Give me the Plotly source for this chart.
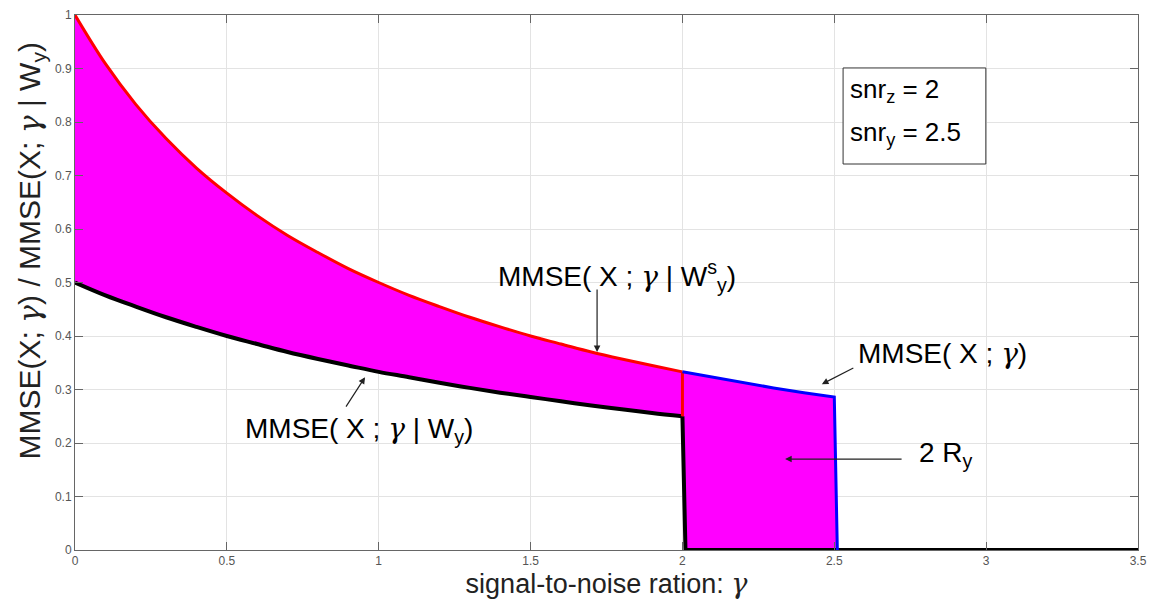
import plotly.graph_objects as go

# snr values (gamma) and curve readings
gamma_low = [0.0, 0.1, 0.2, 0.3, 0.4, 0.5, 0.6, 0.7, 0.8, 0.9, 1.0,
             1.1, 1.2, 1.3, 1.4, 1.5, 1.6, 1.7, 1.8, 1.9, 2.0]
mmse_ws = [1.0, 0.909, 0.833, 0.769, 0.714, 0.667, 0.625, 0.588, 0.556, 0.526, 0.5,
           0.476, 0.455, 0.435, 0.417, 0.4, 0.385, 0.370, 0.357, 0.345, 0.333]
mmse_w = [0.5, 0.476, 0.455, 0.435, 0.417, 0.4, 0.385, 0.370, 0.357, 0.345, 0.333,
          0.323, 0.3125, 0.303, 0.294, 0.286, 0.278, 0.270, 0.263, 0.256, 0.25]
gamma_mid = [2.0, 2.1, 2.2, 2.3, 2.4, 2.5]
mmse_x = [0.333, 0.323, 0.3125, 0.303, 0.294, 0.286]
# jump points
snr_z = 2.0
snr_y = 2.5
gamma_max = 3.5
drop_w_x = 2.01
drop_y_x = 2.51

GAMMA = '<span style="font-family:\'DejaVu Serif\'"><i>γ</i></span>'
FONT = "Arial, Liberation Sans"

fig = go.Figure()

# magenta region: between black and red curves (0..snr_z)
fig.add_trace(go.Scatter(x=gamma_low, y=mmse_w, mode="lines", line=dict(width=0, shape="spline"),
                         hoverinfo="skip", showlegend=False))
fig.add_trace(go.Scatter(x=gamma_low, y=mmse_ws, mode="lines", line=dict(width=0, shape="spline"),
                         fill="tonexty", fillcolor="#ff00ff", hoverinfo="skip", showlegend=False))
# magenta region under blue curve (snr_z..snr_y)
fig.add_trace(go.Scatter(x=gamma_mid + [drop_y_x, drop_w_x, snr_z],
                         y=mmse_x + [0, 0, mmse_w[-1]],
                         mode="lines", line=dict(width=0), fill="toself", fillcolor="#ff00ff",
                         hoverinfo="skip", showlegend=False))

# black: MMSE(X; gamma | W_y)
fig.add_trace(go.Scatter(x=gamma_low, y=mmse_w, mode="lines",
                         line=dict(color="black", width=4, shape="spline"), showlegend=False))
fig.add_trace(go.Scatter(x=[snr_z, drop_w_x, gamma_max], y=[mmse_w[-1], 0, 0], mode="lines",
                         line=dict(color="black", width=4), showlegend=False))
# red: MMSE(X; gamma | W_y^s)
fig.add_trace(go.Scatter(x=gamma_low, y=mmse_ws, mode="lines",
                         line=dict(color="#ff0000", width=3, shape="spline"), showlegend=False))
fig.add_trace(go.Scatter(x=[snr_z, snr_z], y=[mmse_ws[-1], mmse_w[-1]], mode="lines",
                         line=dict(color="#ff0000", width=3), showlegend=False))
# blue: MMSE(X; gamma)
fig.add_trace(go.Scatter(x=gamma_mid + [drop_y_x], y=mmse_x + [0], mode="lines",
                         line=dict(color="#0000ff", width=3), showlegend=False))

ann_font = dict(family=FONT, size=28, color="black")


def arrow(x, y, ax, ay):
    fig.add_annotation(x=x, y=y, ax=ax, ay=ay, xref="x", yref="y", showarrow=True,
                       text="", arrowhead=2, arrowsize=1.1, arrowwidth=1.2, arrowcolor="#222")


fig.add_annotation(x=1.785, y=0.513, xref="x", yref="y", showarrow=False,
                   text="MMSE( X ; " + GAMMA + " | W<sup>s</sup><sub>y</sub>)", font=ann_font)
arrow(1.719, 0.370, 0, -64)

fig.add_annotation(x=0.935, y=0.225, xref="x", yref="y", showarrow=False,
                   text="MMSE( X ; " + GAMMA + " | W<sub>y</sub>)", font=ann_font)
arrow(0.955, 0.323, -20, 31)

fig.add_annotation(x=2.855, y=0.368, xref="x", yref="y", showarrow=False,
                   text="MMSE( X ; " + GAMMA + ")", font=ann_font)
arrow(2.459, 0.310, 33, -17)

fig.add_annotation(x=2.868, y=0.178, xref="x", yref="y", showarrow=False,
                   text="2 R<sub>y</sub>", font=ann_font)
arrow(2.338, 0.170, 118, 0)

# parameter box
fig.add_shape(type="rect", xref="x", yref="y", x0=2.529, x1=2.999, y0=0.7215, y1=0.901,
              line=dict(color="#333", width=1), fillcolor="white", layer="above")
fig.add_annotation(x=2.545, y=0.858, xref="x", yref="y", xanchor="left", showarrow=False,
                   text="snr<sub>z</sub> = 2", font=dict(family=FONT, size=26, color="black"))
fig.add_annotation(x=2.545, y=0.778, xref="x", yref="y", xanchor="left", showarrow=False,
                   text="snr<sub>y</sub> = 2.5", font=dict(family=FONT, size=26, color="black"))

# y-axis title (as rotated text)
fig.add_annotation(x=-0.061, y=0.56, xref="paper", yref="y", showarrow=False, textangle=-90,
                   text="MMSE(X; " + GAMMA + ") / MMSE(X; " + GAMMA + " | W<sub>y</sub>)",
                   font=dict(family=FONT, size=30, color="#222"))

axis_common = dict(showline=True, linecolor="#666", linewidth=1, mirror="ticks",
                   ticks="inside", ticklen=8, tickcolor="#666", automargin=False,
                   showgrid=True, gridcolor="#e3e3e3", gridwidth=1, zeroline=False,
                   tickfont=dict(family=FONT, size=12, color="#555"))

fig.update_xaxes(range=[0, 3.5], tickvals=[0, 0.5, 1, 1.5, 2, 2.5, 3, 3.5],
                 ticktext=["0", "0.5", "1", "1.5", "2", "2.5", "3", "3.5"],
                 title=dict(text="signal-to-noise ration: " + GAMMA, standoff=6,
                            font=dict(family=FONT, size=27, color="#222")),
                 **axis_common)
fig.update_yaxes(range=[0, 1], tickvals=[0, 0.1, 0.2, 0.3, 0.4, 0.5, 0.6, 0.7, 0.8, 0.9, 1],
                 ticktext=["0", "0.1", "0.2", "0.3", "0.4", "0.5", "0.6", "0.7", "0.8", "0.9", "1"],
                 **axis_common)

# the page adds an 8px body margin, so the figure is slightly smaller
fig.update_layout(width=1147, height=597, plot_bgcolor="white", paper_bgcolor="white",
                  margin=dict(l=67, r=17, t=7, b=55), showlegend=False)

fig.write_html("out.html")
